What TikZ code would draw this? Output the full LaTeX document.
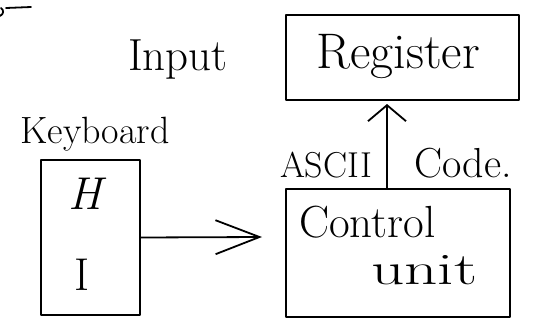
\documentclass[tikz,border=0pt]{standalone}
\usepackage{graphicx}
\usetikzlibrary{arrows.meta}
\newcommand{\fs}[1]{\fontsize{#1}{#1}\selectfont}
\tikzset{
  stroke/.style={line width=1.8pt, line cap=round, line join=round},
  blockbox/.style={stroke, draw, rectangle, inner sep=0pt},
  lbl/.style={inner sep=0pt, anchor=base},
  hhead/.style={stroke, -{Straight Barb[length=44pt,width=34pt,line width=1.8pt]}},
  vhead/.style={stroke, -{Straight Barb[length=16pt,width=38pt,line width=1.8pt]}},
}
\begin{document}
\begin{tikzpicture}[x=1pt, y=-1pt]
  \useasboundingbox (0,0) rectangle (533,327);

  % remains of a heading at the upper left
  \draw[stroke] (0,16) .. controls (4,14) and (4,10) .. (1,8);
  \draw[stroke] (6,8) -- (31,7);

  % blocks
  \node[blockbox, minimum width=233pt, minimum height=85pt] (reg) at (402.5,57.5) {};
  \node[blockbox, minimum width=224pt, minimum height=128pt] (ctrl) at (398,253) {};
  \node[blockbox, minimum width=99pt, minimum height=155pt] (kb) at (90.5,237.5) {};

  % labels
  \node[lbl] (regtext) at (398,68) {\fs{50}Register};
  \node[lbl] (input) at (178,70) {\fs{45}Input};
  \node[lbl] (keyb) at (95,143) {\fs{38}Keyboard};
  \node[inner sep=0pt] (keyh) at (85,194) {\fs{46}\itshape H};
  \node[inner sep=0pt] (keyi) at (82,275) {\fs{46}I};
  \node[lbl] (ascii) at (326,177) {\fs{36}ASCII};
  \node[lbl, anchor=base west] (code) at (414,177) {\fs{42}Code.};
  \node[lbl, anchor=base west] (ctrltext) at (299,237) {\fs{45}Control};
  \node[lbl, anchor=base west] (unit) at (371,284) {\scalebox{1.45}[1]{\fs{45}unit}};

  % connectors
  \coordinate (hend) at (262,237);
  \draw[hhead] (kb.east) -- (hend);
  \coordinate (vstart) at (387,189);
  \coordinate (vend) at (387,104);
  \draw[vhead] (vstart) -- (vend);
\end{tikzpicture}
\end{document}
